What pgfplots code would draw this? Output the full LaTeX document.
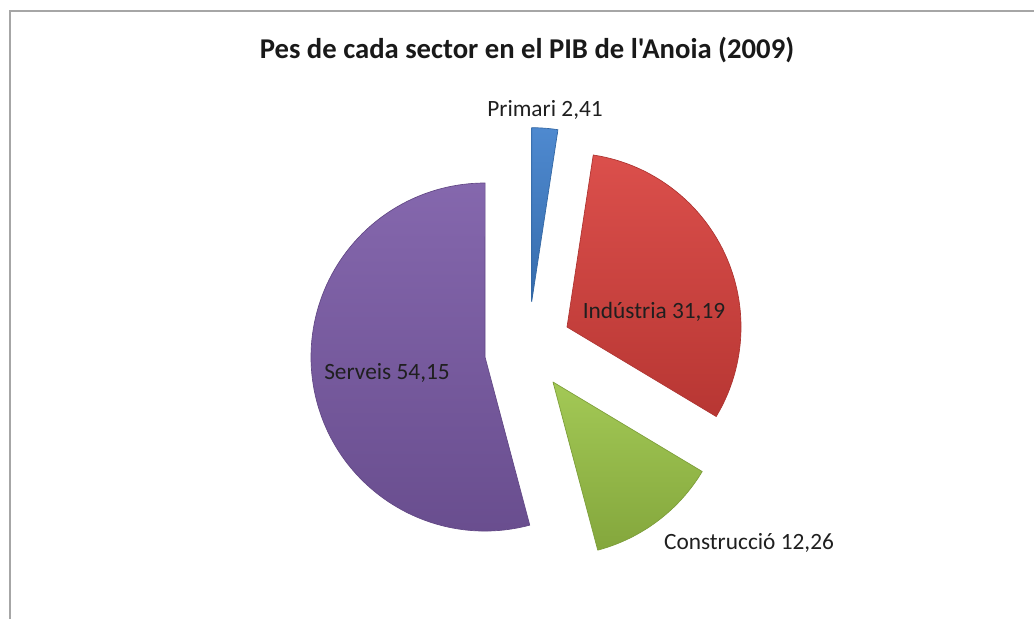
\documentclass[border=0pt]{standalone}
\usepackage{pgfplots}
\usepackage{pgfplotstable}
\pgfplotsset{compat=1.18}
\usepackage{fontspec}
\setmainfont{Carlito}[Ligatures=TeXOff]
\definecolor{cP}{HTML}{3F7FCB}
\definecolor{cI}{HTML}{D8403C}
\definecolor{cC}{HTML}{9BC447}
\definecolor{cS}{HTML}{7A5AA6}
\definecolor{frame}{HTML}{A6A6A6}
% sector value, apex x/y (px), label x/y (px), colour
\pgfplotstableread{
name value ax ay lx ly col
Primari 2.41 531.7 301.7 545 110 cP
Indústria 31.19 567 327 654 312 cI
Construcció 12.26 553 382 749 543 cC
Serveis 54.15 485 357 387 373 cS
}\piedata
\begin{document}
\begin{tikzpicture}
\begin{axis}[name=ax, width=775.5pt, height=464.25pt, scale only axis,
  xmin=0, xmax=1034, ymin=0, ymax=619, hide axis, clip=false,
  /pgf/number format/assume math mode=true]
\def\R{130.5pt}
\def\cum{0}
\pgfplotsforeachungrouped \i in {0,...,3}{%
  \pgfplotstablegetelem{\i}{value}\of\piedata \let\v\pgfplotsretval
  \pgfplotstablegetelem{\i}{ax}\of\piedata \let\ax\pgfplotsretval
  \pgfplotstablegetelem{\i}{ay}\of\piedata \pgfmathsetmacro\ay{619-\pgfplotsretval}
  \pgfplotstablegetelem{\i}{lx}\of\piedata \let\lx\pgfplotsretval
  \pgfplotstablegetelem{\i}{ly}\of\piedata \pgfmathsetmacro\ly{619-\pgfplotsretval}
  \pgfplotstablegetelem{\i}{col}\of\piedata \let\col\pgfplotsretval
  \pgfplotstablegetelem{\i}{name}\of\piedata \let\nm\pgfplotsretval
  \pgfmathsetmacro\start{90-3.6*\cum}
  \pgfmathsetmacro\stop{90-3.6*(\cum+\v)}
  \pgfmathsetmacro\cum{\cum+\v}
  \edef\doslice{\noexpand\path[top color=\col!92!white, bottom color=\col!85!black, draw=\col!80!black, line width=0.5pt, line join=round]
     (axis cs:\ax,\ay) -- ++(\start:\R) arc[start angle=\start, end angle=\stop, radius=\R] -- cycle;
     \noexpand\node[text=black!88, font=\noexpand\fontsize{17.5}{20}\noexpand\selectfont] at (axis cs:\lx,\ly)
       {\nm\space\noexpand\pgfmathprintnumber[use comma,fixed,precision=2,assume math mode=true]{\v}};}%
  \doslice
}
\node[font=\bfseries\fontsize{21.5}{25}\selectfont, text=black!90] at (axis cs:527,569) {Pes de cada sector en el PIB de l'Anoia (2009)};
\draw[frame, line width=1.1pt] (axis cs:10,0) -- (axis cs:10,608) -- (axis cs:1034,608);
\end{axis}
\pgfresetboundingbox
\useasboundingbox (ax.south west) rectangle (ax.north east);
\end{tikzpicture}
\end{document}
